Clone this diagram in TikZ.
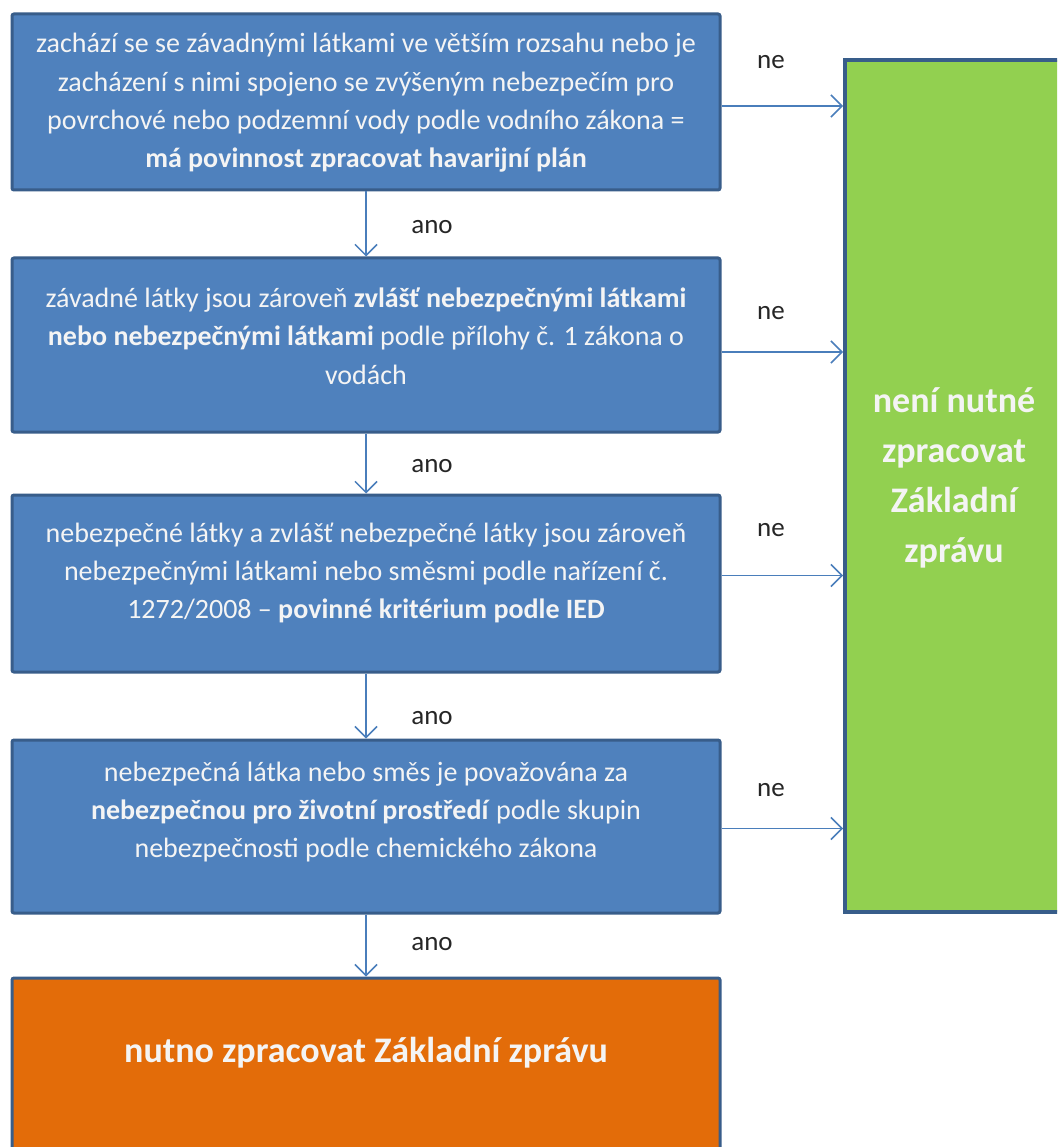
\documentclass[tikz,border=0pt]{standalone}
\usepackage{fontspec}
\setmainfont{Carlito}
\usetikzlibrary{arrows.meta}
\definecolor{boxblue}{HTML}{4F81BD}
\definecolor{borderblue}{HTML}{385D8A}
\definecolor{arrowblue}{HTML}{4A7EBB}
\definecolor{okgreen}{HTML}{92D050}
\definecolor{orangebox}{HTML}{E36C09}
\definecolor{labelgray}{HTML}{262626}
\definecolor{boxtextcol}{HTML}{F4F4F4}
\begin{document}
\begin{tikzpicture}[x=1pt,y=-1pt,
  stepbox/.style={draw=borderblue, line width=3pt, fill=boxblue, rounded corners=2pt, inner sep=0pt, minimum width=708pt},
  boxtext/.style={text=boxtextcol, font=\fontsize{28}{38.3}\selectfont, align=center, inner sep=0pt},
  bigtext/.style={text=boxtextcol, font=\fontsize{36}{50}\selectfont\bfseries, align=center, inner sep=0pt},
  conn/.style={draw=arrowblue, line width=1.5pt, -{Straight Barb[length=11pt,width=22pt,line width=1.5pt]}},
  lbl/.style={text=labelgray, font=\fontsize{27}{30}\selectfont, inner sep=0pt}]
\useasboundingbox (0,0) rectangle (1057,1147);
\clip (0,0) rectangle (1057,1147);
\fill[white] (0,0) rectangle (1057,1147);

% decision boxes
\node[stepbox, minimum height=176pt] (b1) at (366,102) {};
\node[stepbox, minimum height=174pt] (b2) at (366,345) {};
\node[stepbox, minimum height=177pt] (b3) at (366,583.5) {};
\node[stepbox, minimum height=173pt] (b4) at (366,826.5) {};
\node[stepbox, fill=orangebox, minimum height=192pt] (b5) at (366,1074) {};
\node[draw=borderblue, line width=4pt, fill=okgreen, inner sep=0pt, minimum width=400pt, minimum height=852pt] (green) at (1045,486) {};

% texts
\node[boxtext] (t1) at (366,103) {zachází se se závadnými látkami ve větším rozsahu nebo je\\zacházení s nimi spojeno se zvýšeným nebezpečím pro\\povrchové nebo podzemní vody podle vodního zákona =\\\textbf{má povinnost zpracovat havarijní plán}};
\node[boxtext] (t2) at (366,336) {závadné látky jsou zároveň \textbf{zvlášť nebezpečnými látkami}\\\textbf{nebo nebezpečnými látkami} podle přílohy č. 1 zákona o\\vodách};
\node[boxtext] (t3) at (366,573) {nebezpečné látky a zvlášť nebezpečné látky jsou zároveň\\nebezpečnými látkami nebo směsmi podle nařízení č.\\1272/2008 – \textbf{povinné kritérium podle IED}};
\node[boxtext] (t4) at (366,812) {nebezpečná látka nebo směs je považována za\\\textbf{nebezpečnou pro životní prostředí} podle skupin\\nebezpečnosti podle chemického zákona};
\node[bigtext] (t5) at (366,1053) {nutno zpracovat Základní zprávu};
\node[bigtext] (tg) at (954,478) {není nutné\\zpracovat\\Základní\\zprávu};

% yes arrows
\draw[conn] (b1.south) -- (b2.north);
\draw[conn] (b2.south) -- (b3.north);
\draw[conn] (b3.south) -- (b4.north);
\draw[conn] (b4.south) -- (b5.north);
\node[lbl] (a1) at (432,227) {ano};
\node[lbl] (a2) at (432,466) {ano};
\node[lbl] (a3) at (432,718) {ano};
\node[lbl] (a4) at (432,944) {ano};

% no arrows
\coordinate (n1) at ([yshift=-4pt]b1.east);
\coordinate (n2) at ([yshift=-7pt]b2.east);
\coordinate (n3) at ([yshift=8pt]b3.east);
\coordinate (n4) at ([yshift=-2pt]b4.east);
\draw[conn] (n1) -- (n1 -| green.west);
\draw[conn] (n2) -- (n2 -| green.west);
\draw[conn] (n3) -- (n3 -| green.west);
\draw[conn] (n4) -- (n4 -| green.west);
\node[lbl] (e1) at (771,62) {ne};
\node[lbl] (e2) at (771,313) {ne};
\node[lbl] (e3) at (771,530) {ne};
\node[lbl] (e4) at (771,790) {ne};
\end{tikzpicture}
\end{document}
